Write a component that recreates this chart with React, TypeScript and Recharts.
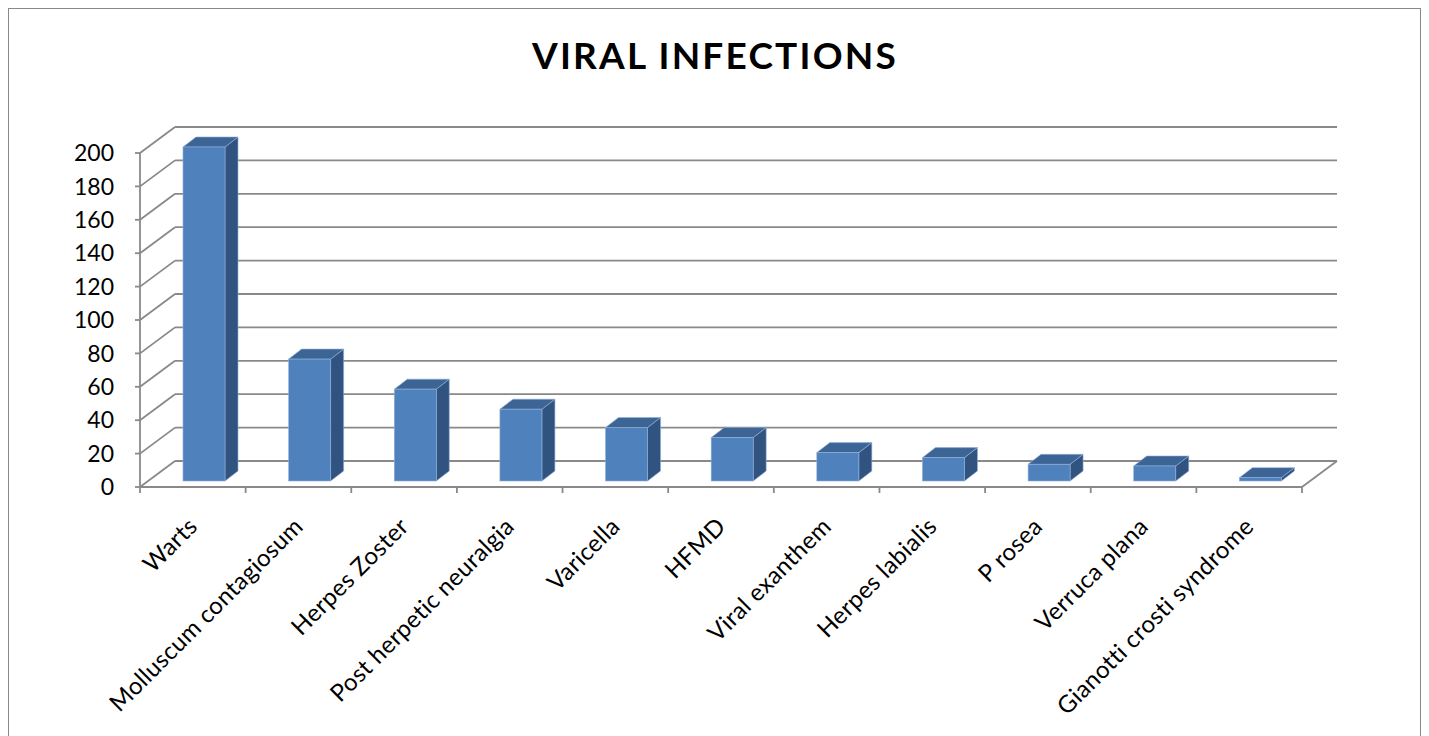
import React from 'react';
import { BarChart, Bar, XAxis, YAxis, CartesianGrid } from 'recharts';

const title = 'VIRAL INFECTIONS';
const categories = [
  'Warts',
  'Molluscum contagiosum',
  'Herpes Zoster',
  'Post herpetic neuralgia',
  'Varicella',
  'HFMD',
  'Viral exanthem',
  'Herpes labialis',
  'P rosea',
  'Verruca plana',
  'Gianotti crosti syndrome',
];
const cases = [200, 73, 55, 43, 32, 26, 17, 14, 10, 9, 2];
const yTicks = [0, 20, 40, 60, 80, 100, 120, 140, 160, 180, 200];

const data = categories.map((name, i) => ({ name, value: cases[i] }));

const CHART_W = 1411;
const CHART_H = 727;
const MARGIN = { top: 144, right: 118, left: 71, bottom: 0 };
const Y_AXIS_W = 60;
const X_AXIS_H = CHART_H - 478;
const PLOT_W = CHART_W - MARGIN.left - Y_AXIS_W - MARGIN.right;

const DEPTH_X = 35;
const DEPTH_Y = 26;
const FRONT_X = 11;
const FRONT_Y = 6;
const BOX_DX = 13;
const BOX_DY = 10;
const LABEL_DX = 6;
const LABEL_DY = 41;

const GRID = '#898989';
const GRID_W = 1.8;
const FONT = 'Lato, "Open Sans", sans-serif';
const FRONT = '#4F81BD';
const TOP = '#3C6596';
const SIDE = '#31537F';
const EDGE = '#8FB0DA';

function GridLine(props: any) {
  const { x1, y1, x2, y2 } = props;
  return (
    <g>
      <line x1={x1} y1={y1} x2={x1 + DEPTH_X} y2={y1 - DEPTH_Y} stroke={GRID} strokeWidth={GRID_W} />
      <line x1={x1 + DEPTH_X} y1={y1 - DEPTH_Y} x2={x2 + DEPTH_X} y2={y2 - DEPTH_Y} stroke={GRID} strokeWidth={GRID_W} />
    </g>
  );
}

function XTick(props: any) {
  const { x, y, payload, index } = props;
  const half = payload && payload.offset ? payload.offset : PLOT_W / categories.length / 2;
  const isLast = index === categories.length - 1;
  const tx = x + LABEL_DX;
  const ty = y + LABEL_DY;
  return (
    <g>
      <line x1={x - half} y1={y} x2={x - half} y2={y + 6} stroke={GRID} strokeWidth={GRID_W} />
      {isLast && (
        <g>
          <line x1={x + half} y1={y} x2={x + half} y2={y + 6} stroke={GRID} strokeWidth={GRID_W} />
          <line x1={x + half} y1={y} x2={x + half + DEPTH_X} y2={y - DEPTH_Y} stroke={GRID} strokeWidth={GRID_W} />
        </g>
      )}
      <text
        x={tx}
        y={ty}
        transform={`rotate(-45 ${tx} ${ty})`}
        textAnchor="end"
        fontSize={24}
        letterSpacing={0.3}
        fontFamily={FONT}
        fill="#000"
      >
        {payload.value}
      </text>
    </g>
  );
}

function Box3D(props: any) {
  const { x, y, width, height } = props;
  if (x == null || y == null) return null;
  const fx = x + FRONT_X;
  const fy = y - FRONT_Y;
  const w = width;
  const h = Math.max(height, 0);
  const topPts = `${fx},${fy} ${fx + BOX_DX},${fy - BOX_DY} ${fx + w + BOX_DX},${fy - BOX_DY} ${fx + w},${fy}`;
  const sidePts = `${fx + w},${fy} ${fx + w + BOX_DX},${fy - BOX_DY} ${fx + w + BOX_DX},${fy - BOX_DY + h} ${fx + w},${fy + h}`;
  return (
    <g>
      <polygon points={sidePts} fill={SIDE} stroke={EDGE} strokeWidth={0.6} />
      <polygon points={topPts} fill={TOP} stroke={EDGE} strokeWidth={0.6} />
      <rect x={fx} y={fy} width={w} height={h} fill={FRONT} stroke={EDGE} strokeWidth={0.6} />
    </g>
  );
}

export default function App() {
  return (
    <div
      style={{
        position: 'relative',
        width: CHART_W,
        height: CHART_H,
        border: `2px solid ${GRID}`,
        marginLeft: -1,
        marginTop: -1,
        background: '#fff',
      }}
    >
      <svg width={CHART_W} height={100} style={{ position: 'absolute', left: 0, top: 0 }}>
        <text
          x={706}
          y={60.3}
          textAnchor="middle"
          fontSize={37}
          letterSpacing={2.2}
          fontWeight="bold"
          fontFamily={FONT}
          fill="#000"
        >
          {title}
        </text>
      </svg>
      <div style={{ position: 'absolute', left: 0, top: 0 }}>
        <BarChart width={CHART_W} height={CHART_H} data={data} margin={MARGIN}>
          <CartesianGrid vertical={false} horizontal={(p: any) => <GridLine {...p} />} />
          <YAxis
            type="number"
            domain={[0, 200]}
            ticks={yTicks}
            interval={0}
            width={Y_AXIS_W}
            tickSize={5}
            tickMargin={21}
            axisLine={{ stroke: GRID, strokeWidth: GRID_W }}
            tickLine={{ stroke: GRID, strokeWidth: GRID_W }}
            tick={{ fill: '#000', fontSize: 23, fontFamily: FONT }}
          />
          <XAxis
            dataKey="name"
            interval={0}
            height={X_AXIS_H}
            tickSize={0}
            tickMargin={0}
            tickLine={false}
            axisLine={{ stroke: GRID, strokeWidth: GRID_W }}
            tick={(p: any) => <XTick {...p} />}
          />
          <Bar dataKey="value" barSize={42} shape={(p: any) => <Box3D {...p} />} isAnimationActive={false} />
        </BarChart>
      </div>
    </div>
  );
}
